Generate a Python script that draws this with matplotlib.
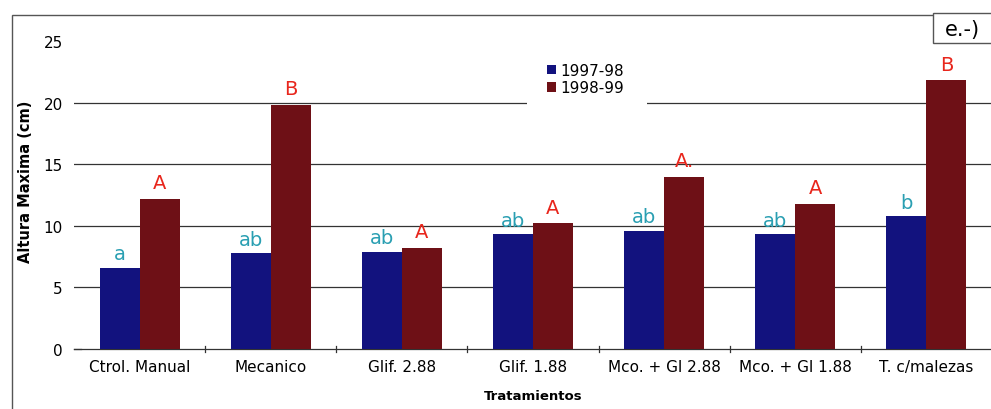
import matplotlib
matplotlib.use("Agg")
import matplotlib.pyplot as plt
import numpy as np
from matplotlib.patches import Rectangle

categories = ["Ctrol. Manual", "Mecanico", "Glif. 2.88", "Glif. 1.88",
              "Mco. + Gl 2.88", "Mco. + Gl 1.88", "T. c/malezas"]
series_names = ["1997-98", "1998-99"]
vals_9798 = [6.6, 7.8, 7.9, 9.3, 9.6, 9.3, 10.8]
vals_9899 = [12.2, 19.8, 8.2, 10.2, 14.0, 11.8, 21.8]
letters_9798 = ["a", "ab", "ab", "ab", "ab", "ab", "b"]
letters_9899 = ["A", "B", "A", "A", "A.", "A", "B"]
yticks = [0, 5, 10, 15, 20, 25]

plt.rcParams['font.family'] = ['DejaVu Sans']

fig = plt.figure(figsize=(9.91, 4.10), dpi=100)
W, H = 991, 410
AW = 992 - 74
AH = 350 - 42
ax = fig.add_axes([74/W, 1 - 350/H, AW/W, AH/H])

x = np.arange(len(categories))
bw = 0.305
c1 = "#12127e"
c2 = "#6e1016"
ax.bar(x - bw/2, vals_9798, bw, color=c1, label=series_names[0], zorder=3)
ax.bar(x + bw/2, vals_9899, bw, color=c2, label=series_names[1], zorder=3)

for xi, v, t in zip(x, vals_9798, letters_9798):
    ax.text(xi - bw/2, v + 0.35, t, ha="center", va="bottom", color="#2a9fb2",
            fontsize=14, zorder=4)
for xi, v, t in zip(x, vals_9899, letters_9899):
    ax.text(xi + bw/2, v + 0.55, t, ha="center", va="bottom", color="#e8261c",
            fontsize=14, zorder=4)

ax.set_xlim(-0.5, len(categories) - 0.5)
ax.set_ylim(0, 25)
ax.set_yticks(yticks)
ax.set_yticklabels([str(t) for t in yticks], fontsize=11)
for t in yticks[1:-1]:
    ax.axhline(t, color="#333333", lw=0.9, zorder=1)
ax.set_xticks(x)
ax.set_xticklabels(categories, fontsize=11)
ax.tick_params(axis="x", length=0, pad=7)
ax.tick_params(axis="y", length=0, pad=8)
for b in np.arange(0.5, len(categories) - 1, 1.0):
    ax.plot([b, b], [-0.25, 0.25], color="#333333", lw=0.9, clip_on=False, zorder=2)
ax.plot([-0.5, -0.45], [0, 0], color="#333333", lw=0.9, clip_on=False)
for s in ["top", "right", "left"]:
    ax.spines[s].set_visible(False)
ax.spines["bottom"].set_color("#333333")
ax.spines["bottom"].set_linewidth(0.9)
ax.spines["bottom"].set_zorder(2)

ax.set_ylabel("Altura Maxima (cm)", fontsize=10.5, fontweight="bold")
ax.yaxis.set_label_coords((33 - 74)/AW, (350 - 182)/AH)
ax.set_xlabel("Tratamientos", fontsize=9.5, fontweight="bold", labelpad=11)

# white background area of the legend (interrupts the 20 gridline)
ax.add_patch(Rectangle(((527 - 74)/AW, 1 - (110 - 42)/AH), (647 - 527)/AW, (110 - 50)/AH,
                       transform=ax.transAxes, facecolor="white", edgecolor="none", zorder=2))
leg = ax.legend(loc="upper left", bbox_to_anchor=((538 - 74)/AW, 1 - (55 - 42)/AH),
                fontsize=11, frameon=False,
                handlelength=0.55, handleheight=0.55, handletextpad=0.3,
                labelspacing=0.15, borderpad=0.6, borderaxespad=0)
leg.set_zorder(5)

fig.patches.append(Rectangle((12/W, -0.02), 1.0, 1 - 16/H + 0.02, transform=fig.transFigure,
                             fill=False, edgecolor="#555555", lw=1.0))
fig.patches.append(Rectangle((933/W, 1 - 44/H), 0.1, 30/H, transform=fig.transFigure,
                             fill=True, facecolor="white", edgecolor="#555555", lw=1.0))
fig.text(945/W, 1 - 30/H, "e.-)", fontsize=15, va="center", ha="left")

fig.savefig("out.png", dpi=100)
